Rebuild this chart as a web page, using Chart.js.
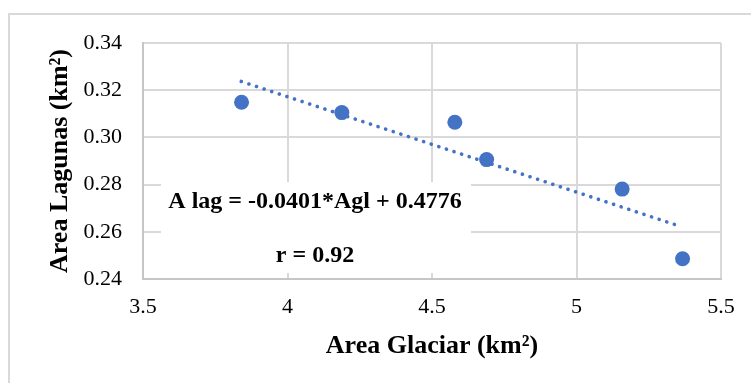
<!DOCTYPE html>
<html>
<head>
<meta charset="utf-8">
<script src="https://cdn.jsdelivr.net/npm/chart.js@4.4.1/dist/chart.umd.min.js"></script>
<style>
  html, body { margin: 0; padding: 0; background: #fff; }
  canvas { display: block; }
</style>
</head>
<body>
<canvas id="lagunasChart" width="751" height="383"></canvas>
<script>
// Data (km2)
const areaGlaciar = [3.841, 4.188, 4.579, 4.689, 5.158, 5.367];
const areaLagunas = [0.3149, 0.3105, 0.3064, 0.2906, 0.2781, 0.2486];

// Linea de tendencia (extremos)
const trendX = [3.840, 5.362];
const trendY = [0.3237, 0.2622];

const xTicks = [3.5, 4, 4.5, 5, 5.5];
const yTicks = [0.24, 0.26, 0.28, 0.30, 0.32, 0.34];

const ecuacion = 'A lag = -0.0401*Agl + 0.4776';
const correlacion = 'r = 0.92';
const tituloX = 'Area Glaciar (km²)';
const tituloY = 'Area Lagunas (km²)';

const FONT = '"Liberation Serif", "Times New Roman", serif';
const AZUL = '#4472C4';

// Marco, cuadro de texto y titulos
const decoPlugin = {
    id: 'deco',
    beforeDraw(chart) {
        const ctx = chart.ctx;
        ctx.save();
        ctx.fillStyle = '#fff';
        ctx.fillRect(0, 0, chart.width, chart.height);
        ctx.strokeStyle = '#d9d9d9';
        ctx.lineWidth = 2;
        ctx.strokeRect(9, 14, 800, 400);
        ctx.restore();
    },
    beforeDatasetsDraw(chart) {
        const ctx = chart.ctx;
        const a = chart.chartArea;
        ctx.save();
        // cuadro blanco de la ecuacion
        ctx.fillStyle = '#fff';
        ctx.fillRect(161, 182, 310, 91);
        ctx.fillStyle = '#000';
        ctx.textAlign = 'center';
        ctx.textBaseline = 'alphabetic';
        ctx.font = 'bold 24px ' + FONT;
        ctx.fillText(ecuacion, 315, 208);
        ctx.fillText(correlacion, 315, 262);

        // titulos de ejes
        ctx.font = 'bold 26px ' + FONT;
        ctx.fillText(tituloX, (a.left + a.right) / 2, 353);
        ctx.translate(67, (a.top + a.bottom) / 2);
        ctx.rotate(-Math.PI / 2);
        ctx.fillText(tituloY, 0, 0);
        ctx.restore();
    }
};

const ctx = document.getElementById('lagunasChart').getContext('2d');
new Chart(ctx, {
    type: 'scatter',
    data: {
        datasets: [
            {
                label: 'Areas',
                data: areaGlaciar.map((x, i) => ({ x: x, y: areaLagunas[i] })),
                backgroundColor: AZUL,
                borderWidth: 0,
                pointRadius: 7.5,
                order: 1
            },
            {
                label: 'Tendencia',
                type: 'line',
                data: trendX.map((x, i) => ({ x: x, y: trendY[i] })),
                borderColor: AZUL,
                borderWidth: 3.6,
                borderDash: [0.1, 7.9],
                borderCapStyle: 'round',
                pointRadius: 0,
                fill: false,
                order: 0
            }
        ]
    },
    options: {
        responsive: false,
        animation: false,
        devicePixelRatio: 1,
        layout: { padding: { left: 0, top: 43, right: 30, bottom: 0 } },
        plugins: {
            legend: { display: false },
            tooltip: { enabled: false }
        },
        scales: {
            x: {
                type: 'linear',
                min: xTicks[0],
                max: xTicks[xTicks.length - 1],
                afterBuildTicks: (s) => { s.ticks = xTicks.map(v => ({ value: v })); },
                afterFit: (s) => { s.height = 104; },
                grid: { color: '#d9d9d9', lineWidth: 2, drawTicks: false },
                border: { color: '#c6c6c6', width: 2 },
                ticks: {
                    padding: 15,
                    color: '#000',
                    font: { family: FONT, size: 22 },
                    callback: (v) => String(Math.round(v * 10) / 10)
                }
            },
            y: {
                min: yTicks[0],
                max: yTicks[yTicks.length - 1],
                afterBuildTicks: (s) => { s.ticks = yTicks.map(v => ({ value: v })); },
                afterFit: (s) => { s.width = 143; },
                grid: { color: '#d9d9d9', lineWidth: 2, drawTicks: false },
                border: { color: '#c6c6c6', width: 2 },
                ticks: {
                    padding: 21,
                    color: '#000',
                    font: { family: FONT, size: 22 },
                    callback: (v) => v.toFixed(2)
                }
            }
        }
    },
    plugins: [decoPlugin]
});
</script>
</body>
</html>
